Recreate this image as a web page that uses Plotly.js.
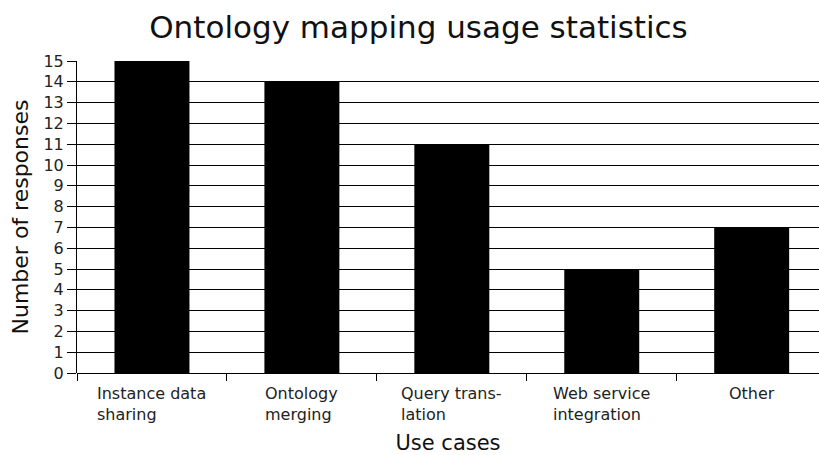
<!DOCTYPE html>
<html>
<head>
<meta charset="utf-8">
<script src="https://cdn.plot.ly/plotly-3.0.1.min.js"></script>
<style>html,body{margin:0;padding:0;background:#fff;}#chart{width:819px;height:455px;}</style>
</head>
<body>
<div id="chart"></div>
<script>
const categories = ["Instance data sharing", "Ontology merging", "Query translation", "Web service integration", "Other"];
const tickLabels = ["Instance data<br>sharing", "Ontology<br>merging", "Query trans-<br>lation", "Web service<br>integration", "Other"];
const responses = [15, 14, 11, 5, 7];

const font = "DejaVu Sans, Verdana, sans-serif";

const annotations = categories.map((c, i) => ({
  x: c, xref: "x", y: -0.03, yref: "paper",
  text: tickLabels[i], showarrow: false,
  xanchor: "center", yanchor: "top", align: "left",
  font: {family: font, size: 16, color: "#222"}
}));

Plotly.newPlot("chart", [{
  type: "bar", x: categories, y: responses,
  marker: {color: "#000", line: {width: 0}},
  hoverinfo: "none"
}], {
  width: 819, height: 455,
  margin: {l: 77, r: 0, t: 61, b: 82},
  paper_bgcolor: "#fff", plot_bgcolor: "#fff",
  bargap: 0.5,
  showlegend: false,
  title: {text: "Ontology mapping usage statistics", x: 0.511, xanchor: "center", y: 0.94, yanchor: "middle",
          font: {family: font, size: 31, color: "#111"}},
  xaxis: {
    type: "category", range: [-0.5, 4.449], automargin: false,
    showticklabels: false, ticks: "outside", tickson: "boundaries",
    ticklen: 7, tickcolor: "#000", tickwidth: 1,
    showgrid: false, zeroline: false, showline: false,
    title: {text: "Use cases", font: {family: font, size: 21, color: "#111"}, standoff: 70}
  },
  yaxis: {
    range: [0, 15], dtick: 1, tick0: 0,
    ticks: "outside", ticklen: 9, tickcolor: "#000", tickwidth: 1,
    showgrid: true, gridcolor: "#000", gridwidth: 1,
    showline: true, linecolor: "#000", linewidth: 1,
    zeroline: true, zerolinecolor: "#000", zerolinewidth: 1,
    tickfont: {family: font, size: 16, color: "#222"},
    title: {text: "Number of responses", font: {family: font, size: 22, color: "#111"}, standoff: 8}
  },
  annotations: annotations
}, {staticPlot: true});
</script>
</body>
</html>
